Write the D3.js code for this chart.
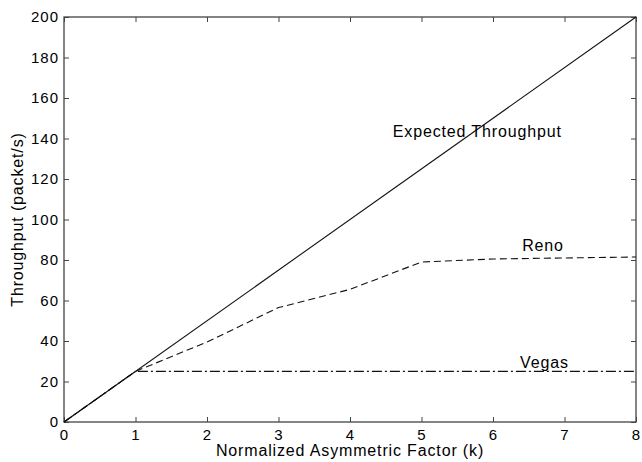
<!DOCTYPE html>
<meta charset="utf-8">
<style>
body { margin: 0; background: #fff; }
text { font-family: "Liberation Sans", Arial, sans-serif; fill: #000; }
.frame { fill: none; stroke: #444; stroke-width: 1.3; }
.tick line { stroke: #444; }
.line { fill: none; stroke: #111; stroke-width: 1.1; }
.label { font-size: 16px; letter-spacing: 0.85px; text-anchor: middle; }
</style>
<body>
<script src="https://d3js.org/d3.v7.min.js"></script>
<script>
// values
var kExpected = [0, 8];
var expected = [0, 200];

var kReno = [0, 1, 2, 3, 4, 5, 6, 7, 8];
var reno = [0, 25, 39.5, 56.5, 65.5, 79, 80.5, 81, 81.5];

var kVegas = [0, 1, 8];
var vegas = [0, 25, 25];

var xTicks = [0, 1, 2, 3, 4, 5, 6, 7, 8];
var yTicks = [0, 20, 40, 60, 80, 100, 120, 140, 160, 180, 200];

var margin = {top: 17, right: 6, bottom: 40, left: 64},
    width = 642 - margin.left - margin.right,
    height = 462 - margin.top - margin.bottom;

var x = d3.scaleLinear().domain([0, 8]).range([0, width]);
var y = d3.scaleLinear().domain([0, 200]).range([height, 0]);

var svg = d3.select("body").append("svg")
    .attr("width", 642)
    .attr("height", 462)
  .append("g")
    .attr("transform", "translate(" + margin.left + "," + margin.top + ")");

function style(g) {
  g.select(".domain").remove();
  g.selectAll("text").style("font-size", "15px").style("letter-spacing", "1px");
}

svg.append("g")
    .attr("transform", "translate(0," + height + ")")
    .call(d3.axisBottom(x).tickValues(xTicks).tickSize(-5).tickPadding(7).tickFormat(d3.format("d")))
    .call(style);
svg.append("g")
    .call(d3.axisTop(x).tickValues(xTicks).tickSize(-5).tickFormat(""))
    .call(style);
svg.append("g")
    .call(d3.axisLeft(y).tickValues(yTicks).tickSize(-5).tickPadding(5).tickFormat(d3.format("d")))
    .call(style);
svg.append("g")
    .attr("transform", "translate(" + width + ",0)")
    .call(d3.axisRight(y).tickValues(yTicks).tickSize(-5).tickFormat(""))
    .call(style);

svg.append("rect")
    .attr("class", "frame")
    .attr("width", width)
    .attr("height", height);

function series(ks, vs) {
  return ks.map(function(k, i) { return [k, vs[i]]; });
}
var line = d3.line()
    .x(function(d) { return x(d[0]); })
    .y(function(d) { return y(d[1]); });

svg.append("path")
    .attr("class", "line")
    .attr("d", line(series(kExpected, expected)));
svg.append("path")
    .attr("class", "line")
    .style("stroke-dasharray", "7,4")
    .attr("d", line(series(kReno, reno)));
svg.append("path")
    .attr("class", "line")
    .style("stroke-dasharray", "10,3,2,3")
    .attr("d", line(series(kVegas, vegas)));

// curve labels
svg.append("text").attr("class", "label")
    .attr("x", x(5.78)).attr("y", y(140.7))
    .text("Expected Throughput");
svg.append("text").attr("class", "label")
    .attr("x", x(6.7)).attr("y", y(84.4))
    .text("Reno");
svg.append("text").attr("class", "label")
    .attr("x", x(6.72)).attr("y", y(26.7))
    .text("Vegas");

svg.append("text").attr("class", "label")
    .attr("x", width / 2).attr("y", height + 34)
    .text("Normalized Asymmetric Factor (k)");
svg.append("text").attr("class", "label")
    .attr("transform", "rotate(-90)")
    .attr("x", -height / 2).attr("y", -41)
    .text("Throughput (packet/s)");
</script>
</body>
</html>
